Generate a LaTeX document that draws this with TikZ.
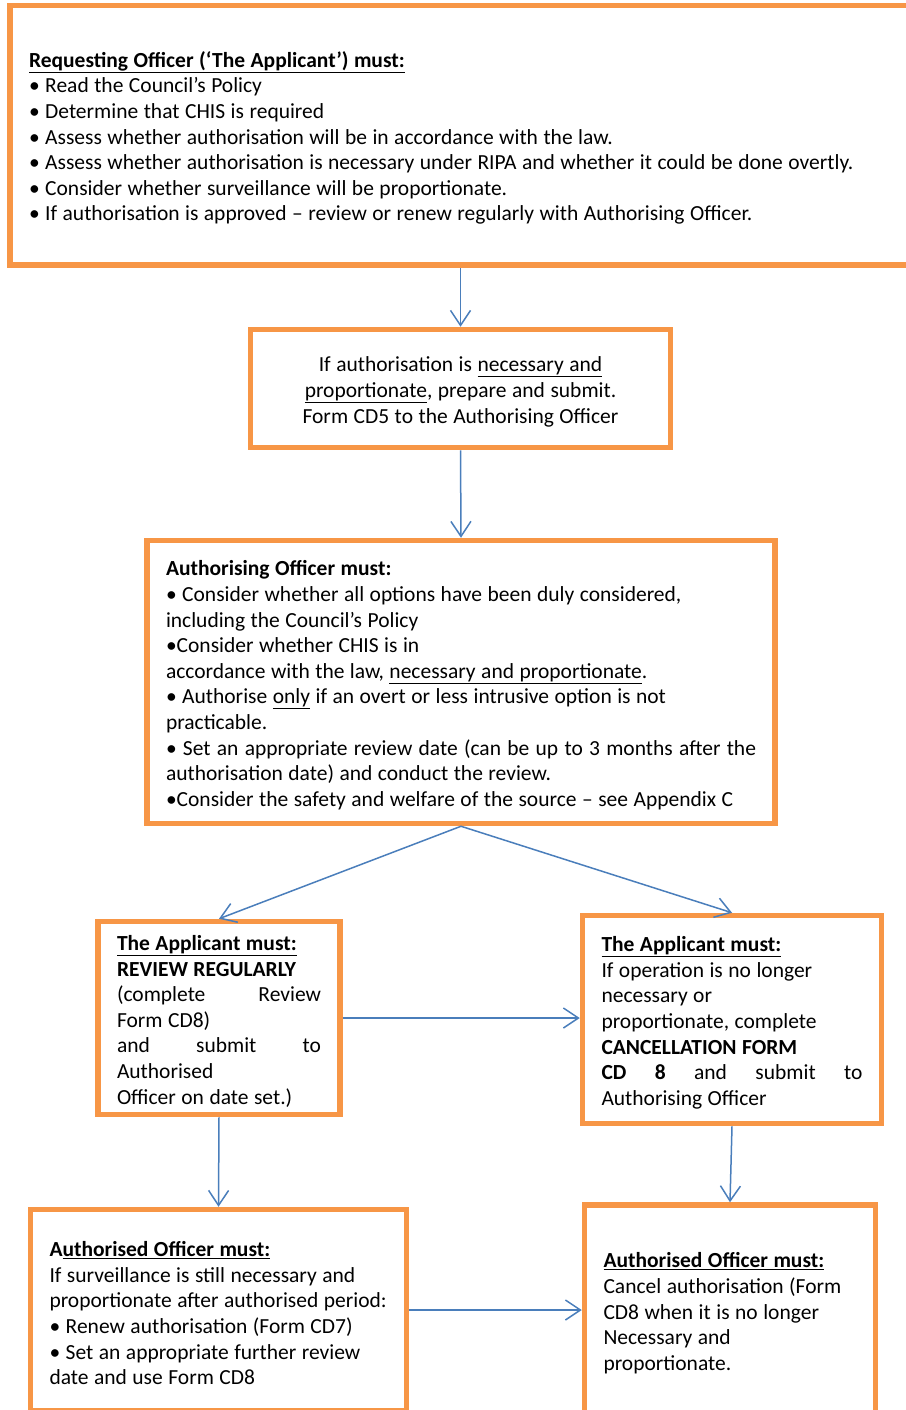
\documentclass[tikz,border=0pt]{standalone}
\usepackage{fontspec}
\setmainfont{Carlito}
\usetikzlibrary{arrows.meta,positioning}
\definecolor{boxorange}{HTML}{F79646}
\definecolor{lineblue}{HTML}{4A7EBB}

\begin{document}
\begin{tikzpicture}[
    x=1pt, y=-1pt,
    font=\fontsize{21.5}{25.6}\selectfont,
    panel/.style={draw=boxorange, fill=white, line width=5.5pt, inner xsep=19pt, inner ysep=0pt,
        execute at begin node={\parindent=0pt\raggedright\spaceskip=5.5pt plus 4pt minus 1pt\xspaceskip=5.5pt plus 4pt\rule{0pt}{21.5pt}}},
    flow/.style={draw=lineblue, line width=1.5pt, -{Straight Barb[length=15pt,width=20pt]}}
]
\useasboundingbox (0,0) rectangle (905,1410);

\node[panel, minimum width=920pt, minimum height=259.5pt, text width=882pt] (req) at (470,135.25) {%
\underline{\textbf{Requesting Officer (‘The Applicant’) must:}}\\
• Read the Council’s Policy\\
• Determine that CHIS is required\\
• Assess whether authorisation will be in accordance with the law.\\
• Assess whether authorisation is necessary under RIPA and whether it could be done overtly.\\
• Consider whether surveillance will be proportionate.\\
• If authorisation is approved – review or renew regularly with Authorising Officer.};

\node[panel, execute at begin node={\parindent=0pt\centering\spaceskip=5.5pt plus 4pt minus 1pt\rule{0pt}{21.5pt}},
    minimum width=420pt, minimum height=118pt, text width=382pt] (prep) at (460.5,388.5) {%
If authorisation is \underline{necessary and}\\
\underline{proportionate}, prepare and submit.\\
Form CD5 to the Authorising Officer};

\node[panel, minimum width=627pt, minimum height=283pt, text width=590pt] (auth) at (461,682) {%
\textbf{Authorising Officer must:}\\
• Consider whether all options have been duly considered,\\
including the Council’s Policy\\
•Consider whether CHIS is in\\
accordance with the law, \underline{necessary and proportionate}.\\
• Authorise \underline{only} if an overt or less intrusive option is not\\
practicable.\\
\makebox[\hsize][s]{• Set an appropriate review date (can be up to 3 months after the}\\
authorisation date) and conduct the review.\\
•Consider the safety and welfare of the source – see Appendix C};

\node[panel, minimum width=239pt, minimum height=193pt, text width=204pt] (revw) at (219,1018) {%
\underline{\textbf{The Applicant must:}}\\
\textbf{REVIEW REGULARLY}\\
\makebox[\hsize][s]{(complete Review}\\
Form CD8)\\
\makebox[\hsize][s]{and submit to}\\
Authorised\\
Officer on date set.)};

\node[panel, minimum width=299pt, minimum height=208pt, text width=261pt] (canc) at (732,1019.5) {%
\underline{\textbf{The Applicant must:}}\\
If operation is no longer\\
necessary or\\
proportionate, complete\\
\textbf{CANCELLATION FORM}\\
\makebox[\hsize][s]{\textbf{CD 8} and submit to}\\
Authorising Officer};

\node[panel, minimum width=376pt, minimum height=201pt, text width=338pt] (renew) at (218.5,1310) {%
\textbf{A\underline{uthorised Officer must:}}\\
If surveillance is still necessary and\\
\mbox{proportionate after authorised period:}\\
• Renew authorisation (Form CD7)\\
• Set an appropriate further review\\
date and use Form CD8};

\node[panel, minimum width=291pt, minimum height=210pt, text width=253pt] (cancel) at (730,1310) {%
\underline{\textbf{Authorised Officer must:}}\\
Cancel authorisation (Form\\
CD8 when it is no longer\\
Necessary and\\
proportionate.};

\draw[flow] (req.south -| prep.north) -- (prep.north);
\draw[flow] (prep.south) -- (auth.north);
\draw[flow] (auth.south) -- (revw.north);
\draw[flow] (auth.south) -- (canc.north);
\draw[flow] (revw.east) -- (revw.east -| canc.west);
\draw[flow] (revw.south) -- (renew.north);
\draw[flow] (canc.south) -- (cancel.north);
\draw[flow] (renew.east) -- (renew.east -| cancel.west);
\end{tikzpicture}
\end{document}
